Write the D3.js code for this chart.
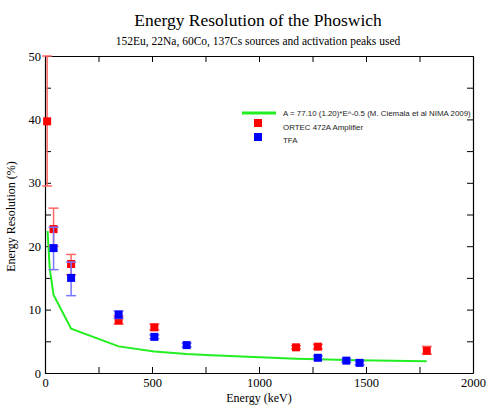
<!DOCTYPE html>
<html><head><meta charset="utf-8">
<script src="https://cdn.jsdelivr.net/npm/d3@7"></script>
<style>body{margin:0;background:#fff}</style>
</head><body><svg id="c" width="488" height="405"></svg>
<script>
// Data
const ortecE   = [10, 40, 122, 344, 511, 1173, 1275, 1784];
const ortecRes = [39.7, 22.7, 17.2, 8.3, 7.2, 4.05, 4.15, 3.5];
const ortecLo  = [29.5, 20.0, 15.5, 7.7, 6.8, 3.8, 3.8, 3.0];
const ortecHi  = [50.0, 26.0, 18.7, 9.0, 7.7, 4.3, 4.5, 4.2];

const tfaE   = [40, 122, 344, 511, 662, 1275, 1408, 1470];
const tfaRes = [19.7, 15.0, 9.2, 5.7, 4.4, 2.4, 1.95, 1.6];
const tfaLo  = [16.3, 12.2, 8.6, 5.4, 4.1, 2.1, 1.7, 1.3];
const tfaHi  = [23.0, 17.5, 9.8, 6.0, 4.7, 2.7, 2.2, 1.9];

const fitE   = [12, 22, 40, 122, 344, 511, 662, 779, 1173, 1275, 1408, 1460, 1784];
const fitRes = [22.4, 16.5, 12.3, 7.0, 4.2, 3.4, 3.0, 2.8, 2.25, 2.15, 2.05, 2.0, 1.85];

const xTicks = [0, 500, 1000, 1500, 2000];
const yTicks = [0, 10, 20, 30, 40, 50];
const legendLabels = ["A = 77.10 (1.20)*E^-0.5  (M. Ciemala et al NIMA 2009)", "ORTEC 472A Amplifier", "TFA"];

const svg = d3.select("#c");
const L = 45, R = 473, T = 56, B = 373;
const x = d3.scaleLinear().domain([0, 2000]).range([L, R]);
const y = d3.scaleLinear().domain([0, 50]).range([B, T]);

const serif = "'Liberation Serif','DejaVu Serif',serif";
const sans = "'Liberation Sans',Arial,sans-serif";

// titles
svg.append("text").attr("x", 258).attr("y", 26).attr("text-anchor", "middle")
  .attr("font-family", serif).attr("font-size", 17.5).text("Energy Resolution of the Phoswich");
svg.append("text").attr("x", 258).attr("y", 45).attr("text-anchor", "middle")
  .attr("font-family", serif).attr("font-size", 11.5).text("152Eu, 22Na, 60Co, 137Cs sources and activation peaks used");

// axes with inward ticks
const tickVals = d3.range(0, 2001, 250);
const gB = svg.append("g").attr("transform", `translate(0,${B})`)
  .call(d3.axisBottom(x).tickValues(tickVals).tickSizeInner(-6).tickSizeOuter(0)
  .tickFormat(d => xTicks.includes(d) ? d : ""));
const gT = svg.append("g").attr("transform", `translate(0,${T})`)
  .call(d3.axisTop(x).tickValues(tickVals).tickSizeInner(-6).tickSizeOuter(0).tickFormat(""));
const yVals = d3.range(0, 51, 5);
const gL = svg.append("g").attr("transform", `translate(${L},0)`)
  .call(d3.axisLeft(y).tickValues(yVals).tickSizeInner(-6).tickSizeOuter(0)
  .tickFormat(d => yTicks.includes(d) ? d : ""));
const gR = svg.append("g").attr("transform", `translate(${R},0)`)
  .call(d3.axisRight(y).tickValues(yVals).tickSizeInner(-6).tickSizeOuter(0).tickFormat(""));
[gB, gT, gL, gR].forEach(g => {
  g.selectAll("path").attr("stroke", "#000").attr("stroke-width", 1.2);
  g.selectAll("line").attr("stroke", "#000");
  g.selectAll("text").attr("font-family", serif).attr("font-size", 12.5).attr("fill", "#000");
});
gB.selectAll("text").attr("y", 5).attr("dy", "0.71em");
gL.selectAll("text").attr("x", -4);

// axis titles
svg.append("text").attr("x", 259).attr("y", 402).attr("text-anchor", "middle")
  .attr("font-family", serif).attr("font-size", 12).text("Energy (keV)");
svg.append("text").attr("transform", `translate(15,${(T + B) / 2 + 2}) rotate(-90)`).attr("text-anchor", "middle")
  .attr("font-family", serif).attr("font-size", 12).text("Energy Resolution (%)");

// fit line
svg.append("path").datum(fitE.map((e, i) => [e, fitRes[i]]))
  .attr("d", d3.line().x(d => x(d[0])).y(d => y(d[1])))
  .attr("fill", "none").attr("stroke", "#22ee22").attr("stroke-width", 2);

function series(E, V, lo, hi, col, barCol) {
  const g = svg.append("g");
  E.forEach((e, i) => {
    const cx = x(e);
    g.append("line").attr("x1", cx).attr("x2", cx).attr("y1", y(lo[i])).attr("y2", y(hi[i]))
      .attr("stroke", barCol).attr("stroke-width", 1.5);
    [lo[i], hi[i]].forEach(v => g.append("line").attr("x1", cx - 5).attr("x2", cx + 5)
      .attr("y1", y(v)).attr("y2", y(v)).attr("stroke", barCol).attr("stroke-width", 1.5));
    g.append("rect").attr("x", cx - 4).attr("y", y(V[i]) - 4).attr("width", 8).attr("height", 8)
      .attr("fill", col);
  });
}
series(ortecE, ortecRes, ortecLo, ortecHi, "#ff0000", "#ff6666");
series(tfaE, tfaRes, tfaLo, tfaHi, "#0000ff", "#7777ff");

// legend
const lg = svg.append("g");
lg.append("line").attr("x1", 242).attr("x2", 276).attr("y1", 113).attr("y2", 113)
  .attr("stroke", "#22ee22").attr("stroke-width", 3);
lg.append("rect").attr("x", 254).attr("y", 119).attr("width", 8).attr("height", 8).attr("fill", "#ff0000");
lg.append("rect").attr("x", 254).attr("y", 133).attr("width", 8).attr("height", 8).attr("fill", "#0000ff");
legendLabels.forEach((t, i) => lg.append("text").attr("x", 283).attr("y", 116 + i * 13.5)
  .attr("font-family", sans).attr("font-size", 7.9).attr("fill", "#222").text(t));
</script></body></html>
